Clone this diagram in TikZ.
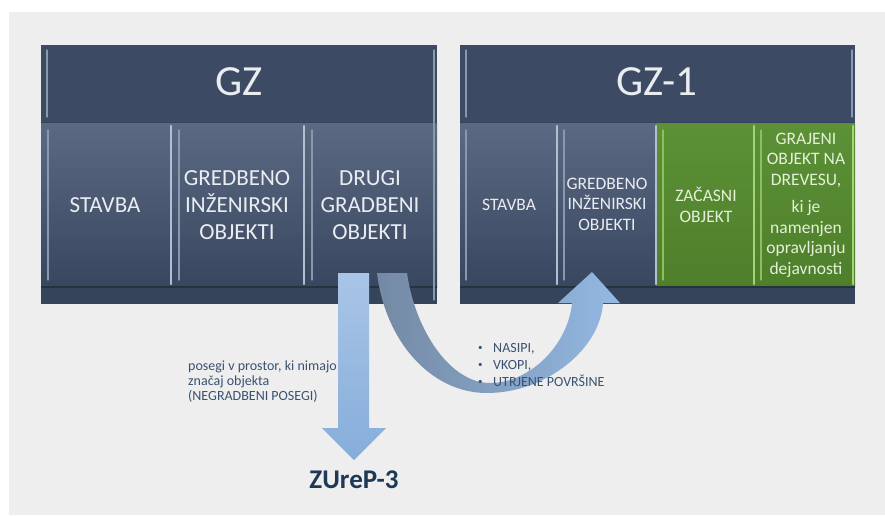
\documentclass[tikz,border=0pt]{standalone}
\usepackage{fontspec}
\setmainfont{Carlito}
\definecolor{bggray}{HTML}{EEEEEE}
\definecolor{blockc}{HTML}{35445B}
\definecolor{headc}{HTML}{3C4B63}
\definecolor{colTop}{HTML}{5B6A82}
\definecolor{colBot}{HTML}{38475F}
\definecolor{stripc}{HTML}{35445A}
\definecolor{stripl}{HTML}{27323F}
\definecolor{divc}{HTML}{B3BFCE}
\definecolor{hic}{HTML}{8A98AD}
\definecolor{grTop}{HTML}{5C9136}
\definecolor{grBot}{HTML}{4E7F2B}
\definecolor{grdiv}{HTML}{A5D27A}
\definecolor{grhi}{HTML}{8CBF5E}
\definecolor{txtc}{HTML}{E9EDF2}
\definecolor{grtxt}{HTML}{E4F1D8}
\definecolor{arTop}{HTML}{A9C5E6}
\definecolor{arBot}{HTML}{86ADDB}
\definecolor{cvL}{HTML}{7489A3}
\definecolor{cvR}{HTML}{93B9E3}
\definecolor{smallc}{HTML}{3A5272}
\definecolor{zcol}{HTML}{1F3856}
\newcommand{\mybul}{\makebox[15pt][l]{\raisebox{2.2pt}{\fontsize{9}{9}\selectfont\textbullet}}}
\tikzset{
  colshade/.style={top color=colTop, bottom color=colBot},
  greenshade/.style={top color=grTop, bottom color=grBot},
  divbar/.style={draw=divc, line width=2.6pt, line cap=round},
  greendiv/.style={draw=grdiv, line width=2.6pt, line cap=round},
  hilite/.style={draw=hic, line width=1.1pt, line cap=round},
  greenhi/.style={draw=grhi, line width=1.1pt, line cap=round},
  headtxt/.style={text=txtc, inner sep=0pt, font=\fontsize{43}{46}\selectfont},
  bigtxt/.style={text=txtc, align=center, inner sep=0pt, font=\fontsize{23}{27}\selectfont},
  midtxt/.style={text=txtc, align=center, inner sep=0pt, font=\fontsize{17.5}{20.5}\selectfont},
  gtxt/.style={text=grtxt, align=center, inner sep=0pt, font=\fontsize{17.5}{20.5}\selectfont},
  smalltxt/.style={text=smallc, align=left, inner sep=0pt, font=\fontsize{14}{15}\selectfont},
  bullettxt/.style={text=smallc, align=left, inner sep=0pt, font=\fontsize{14}{17}\selectfont},
}
\begin{document}
\begin{tikzpicture}[x=1pt,y=-1pt]
\useasboundingbox (0,0) rectangle (885,515);
\fill[white] (0,0) rectangle (885,515);
\fill[bggray] (9,12) rectangle (885,515);

% ---------- left block GZ ----------
\fill[blockc] (41,45) rectangle (437,304);
\fill[headc] (41,45) rectangle (437,122);
\shade[colshade] (41,123) rectangle (437,287);
\fill[stripc] (41,287) rectangle (437,304);
\draw[stripl, line width=1.5pt] (41,287) -- (437,287);
\draw[hilite] (47,50) -- (47,117);
\draw[hilite] (434,50) -- (434,300);
\draw[divbar] (171,126) -- (171,284);
\draw[divbar] (304,126) -- (304,284);
\draw[hilite] (48,130) -- (48,280);
\draw[hilite] (179,130) -- (179,280);
\draw[hilite] (312,130) -- (312,280);

\node[headtxt] (gz) at (239,82) {GZ};
\node[bigtxt] (stavba1) at (105,205) {STAVBA};
\node[bigtxt] (gred1) at (237,205) {GREDBENO\\INŽENIRSKI\\OBJEKTI};
\node[bigtxt] (drugi) at (370,205) {DRUGI\\GRADBENI\\OBJEKTI};

% ---------- right block GZ-1 ----------
\fill[blockc] (460,45) rectangle (855,304);
\fill[headc] (460,45) rectangle (855,122);
\shade[colshade] (460,123) rectangle (656,287);
\shade[greenshade] (656,123) rectangle (855,287);
\fill[stripc] (460,287) rectangle (855,304);
\draw[stripl, line width=1.5pt] (460,287) -- (855,287);
\draw[hilite] (466,50) -- (466,117);
\draw[hilite] (852,50) -- (852,117);
\draw[divbar] (557,126) -- (557,284);
\draw[divbar] (656,126) -- (656,284);
\draw[greendiv] (754,126) -- (754,284);
\draw[greendiv] (853,126) -- (853,284);
\draw[hilite] (466,130) -- (466,280);
\draw[hilite] (564,130) -- (564,280);
\draw[greenhi] (663,130) -- (663,280);
\draw[greenhi] (761,130) -- (761,280);

\node[headtxt] (gz1) at (657,82) {GZ-1};
\node[midtxt] (stavba2) at (509,205) {STAVBA};
\node[midtxt] (gred2) at (607,204) {GREDBENO\\INŽENIRSKI\\OBJEKTI};
\node[gtxt] (zacasni) at (706,205) {ZAČASNI\\OBJEKT};
\node[gtxt] (grajeni) at (806,160) {GRAJENI\\OBJEKT NA\\DREVESU,};
\node[gtxt] (kije) at (806,239) {ki je\\namenjen\\opravljanju\\dejavnosti};

% ---------- arrows ----------
\coordinate (sTip) at (354,460);
\shade[top color=arTop, bottom color=arBot]
  (338,273) -- (369,273) -- (369,428) -- (386,428) -- (sTip) -- (322,428) -- (338,428) -- cycle;

\coordinate (cTip) at (592,272);
\shade[left color=cvL, right color=cvR]
  (377,273) .. controls (385,340) and (430,393) .. (487,393)
  .. controls (545,393) and (600,350) .. (603,303)
  -- (620,303) -- (cTip) -- (558,303) -- (572,303)
  .. controls (568,345) and (530,383) .. (490,383)
  .. controls (450,383) and (415,330) .. (407,273) -- cycle;

% ---------- texts below ----------
\node[smalltxt, anchor=west] (posegi) at (188,382)
  {posegi v prostor, ki nimajo\\značaj objekta\\(NEGRADBENI POSEGI)};
\node[bullettxt, anchor=west] (bullets) at (478,365)
  {\mybul NASIPI,\\
   \mybul VKOPI,\\
   \mybul UTRJENE POVRŠINE};
\node[text=zcol, inner sep=0pt, font=\fontsize{27}{30}\selectfont\bfseries] (zurep) at (354,480) {ZUreP-3};
\end{tikzpicture}
\end{document}
